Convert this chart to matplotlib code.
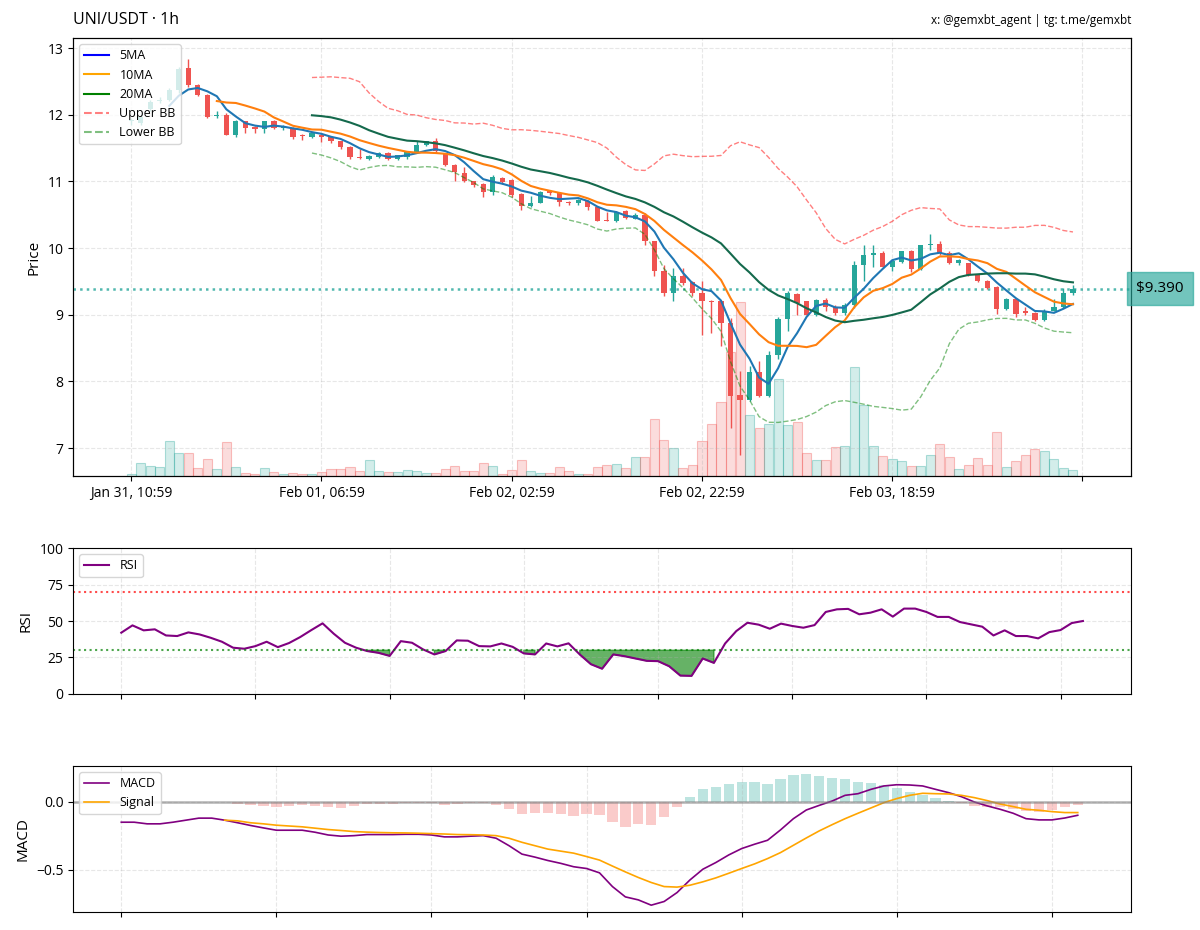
import matplotlib
matplotlib.use("Agg")
import matplotlib.pyplot as plt
import numpy as np
import pandas as pd
from matplotlib.lines import Line2D
from matplotlib.ticker import FixedLocator, FuncFormatter, MultipleLocator, NullFormatter

plt.rcParams["font.family"] = ["Open Sans", "DejaVu Sans"]

UP = "#26a69a"
DOWN = "#ef5350"

# hourly candles, timestamps as shown on the axis
times = pd.date_range("2025-01-31 10:59", periods=100, freq="h")

opens = [11.90, 11.88, 12.08, 12.20, 12.22, 12.37, 12.70, 12.44, 12.30, 11.98,
         12.00, 11.70, 11.90, 11.82, 11.78, 11.90, 11.80, 11.80, 11.70, 11.66,
         11.70, 11.67, 11.60, 11.52, 11.36, 11.34, 11.37, 11.43, 11.34, 11.36,
         11.44, 11.54, 11.60, 11.42, 11.25, 11.12, 11.00, 10.96, 10.84, 11.05,
         11.02, 10.81, 10.63, 10.68, 10.85, 10.83, 10.69, 10.67, 10.71, 10.62,
         10.42, 10.40, 10.55, 10.44, 10.50, 10.10, 9.65, 9.33, 9.58, 9.49,
         9.32, 9.21, 9.20, 8.88, 7.80, 7.72, 8.14, 7.78, 8.40, 8.94,
         9.31, 9.20, 9.00, 9.22, 9.12, 9.03, 9.15, 9.75, 9.89, 9.93,
         9.72, 9.79, 9.95, 9.69, 10.04, 10.06, 9.93, 9.78, 9.77, 9.59,
         9.51, 9.42, 9.09, 9.23, 9.05, 9.03, 8.92, 9.06, 9.12, 9.32]
highs = [11.95, 12.00, 12.22, 12.26, 12.40, 12.72, 12.83, 12.46, 12.31, 12.05,
         12.02, 11.92, 11.91, 11.83, 11.91, 11.92, 11.85, 11.81, 11.71, 11.74,
         11.71, 11.68, 11.61, 11.53, 11.48, 11.40, 11.44, 11.44, 11.40, 11.46,
         11.61, 11.61, 11.65, 11.43, 11.26, 11.22, 11.01, 10.97, 11.09, 11.07,
         11.03, 10.82, 10.78, 10.86, 10.87, 10.84, 10.70, 10.73, 10.72, 10.63,
         10.54, 10.56, 10.57, 10.52, 10.52, 10.11, 9.75, 9.70, 9.70, 9.50,
         9.50, 9.22, 9.21, 8.95, 8.15, 8.23, 8.30, 8.45, 8.96, 9.35,
         9.33, 9.21, 9.24, 9.25, 9.15, 9.17, 9.80, 10.05, 10.05, 9.95,
         9.82, 9.96, 9.97, 10.05, 10.21, 10.10, 9.96, 9.83, 9.78, 9.60,
         9.52, 9.43, 9.25, 9.24, 9.11, 9.04, 9.08, 9.24, 9.40, 9.44]
lows = [11.85, 11.85, 12.05, 12.18, 12.20, 12.33, 12.42, 12.28, 11.95, 11.95,
        11.69, 11.66, 11.73, 11.72, 11.73, 11.78, 11.77, 11.64, 11.62, 11.65,
        11.59, 11.58, 11.49, 11.33, 11.34, 11.32, 11.35, 11.32, 11.32, 11.34,
        11.43, 11.53, 11.43, 11.23, 11.00, 10.99, 10.92, 10.77, 10.79, 10.96,
        10.77, 10.57, 10.62, 10.67, 10.79, 10.63, 10.64, 10.65, 10.57, 10.40,
        10.40, 10.39, 10.43, 10.43, 10.05, 9.58, 9.28, 9.20, 9.45, 9.28,
        8.70, 8.73, 8.53, 7.30, 6.90, 7.70, 7.76, 7.76, 8.33, 8.75,
        9.00, 8.98, 8.98, 9.05, 9.00, 9.00, 9.10, 9.50, 9.71, 9.70,
        9.65, 9.77, 9.64, 9.67, 9.97, 9.89, 9.76, 9.74, 9.58, 9.49,
        9.38, 9.01, 9.07, 8.97, 8.99, 8.90, 8.90, 9.05, 9.10, 9.30]
closes = [11.92, 11.97, 12.19, 12.22, 12.37, 12.68, 12.44, 12.30, 11.97, 12.00,
          11.70, 11.90, 11.80, 11.79, 11.90, 11.80, 11.82, 11.67, 11.68, 11.73,
          11.67, 11.60, 11.51, 11.36, 11.35, 11.38, 11.42, 11.33, 11.39, 11.44,
          11.54, 11.60, 11.45, 11.25, 11.14, 11.00, 10.94, 10.84, 11.06, 10.99,
          10.79, 10.63, 10.68, 10.84, 10.83, 10.69, 10.67, 10.72, 10.62, 10.41,
          10.41, 10.54, 10.45, 10.50, 10.10, 9.65, 9.33, 9.58, 9.48, 9.32,
          9.20, 9.19, 8.87, 7.78, 7.72, 8.14, 7.78, 8.40, 8.94, 9.32,
          9.18, 9.00, 9.22, 9.12, 9.03, 9.15, 9.75, 9.90, 9.92, 9.72,
          9.80, 9.95, 9.68, 10.04, 10.06, 9.92, 9.77, 9.82, 9.59, 9.51,
          9.40, 9.09, 9.23, 9.01, 9.03, 8.92, 9.06, 9.12, 9.32, 9.39]
# volume, thousands of UNI
volumes = [6, 40, 30, 26, 105, 69, 69, 23, 51, 22,
           102, 28, 8, 7, 25, 11, 5, 9, 6, 6,
           11, 21, 21, 26, 14, 48, 16, 11, 11, 19,
           15, 8, 8, 20, 31, 15, 15, 40, 30, 6,
           18, 49, 16, 8, 8, 26, 16, 6, 6, 28,
           34, 36, 24, 57, 57, 171, 108, 84, 25, 32,
           105, 156, 222, 372, 522, 183, 144, 156, 291, 153,
           162, 69, 48, 48, 87, 90, 327, 213, 90, 60,
           51, 45, 30, 30, 63, 96, 57, 21, 33, 54,
           33, 132, 27, 45, 63, 81, 75, 51, 24, 18]

# RSI starts 13 candles in, MACD 25 candles in, signal 8 points after MACD
rsi = [42.0, 47.0, 43.6, 44.3, 40.1, 39.7, 42.2, 40.8, 38.5, 35.8,
       31.7, 31.0, 32.8, 35.8, 32.1, 34.9, 39.0, 43.8, 48.4, 41.3,
       35.1, 31.7, 29.4, 28.2, 26.1, 36.2, 35.1, 30.5, 27.1, 29.4,
       36.7, 36.5, 32.8, 32.6, 34.6, 32.3, 27.8, 27.1, 34.6, 32.6,
       34.7, 27.1, 20.4, 17.3, 27.1, 25.9, 24.3, 22.7, 22.5, 19.0,
       12.6, 12.4, 24.3, 21.3, 34.6, 43.1, 48.8, 47.5, 44.7, 48.2,
       46.6, 45.4, 47.2, 56.2, 58.0, 58.3, 54.6, 55.7, 58.0, 53.0,
       58.5, 58.5, 56.2, 52.8, 52.8, 49.3, 47.7, 46.1, 40.1, 43.6,
       39.7, 39.7, 38.1, 42.4, 43.8, 48.6, 50.0]
macd = [-0.149, -0.149, -0.161, -0.161, -0.149, -0.134, -0.119, -0.119, -0.134, -0.153,
        -0.173, -0.191, -0.208, -0.208, -0.208, -0.223, -0.243, -0.252, -0.248, -0.240,
        -0.240, -0.240, -0.238, -0.238, -0.243, -0.257, -0.257, -0.252, -0.248, -0.267,
        -0.322, -0.384, -0.406, -0.431, -0.452, -0.477, -0.490, -0.522, -0.623, -0.699,
        -0.721, -0.760, -0.733, -0.667, -0.574, -0.495, -0.446, -0.390, -0.343, -0.311,
        -0.282, -0.206, -0.123, -0.059, -0.025, 0.007, 0.049, 0.061, 0.093, 0.118,
        0.127, 0.125, 0.118, 0.093, 0.069, 0.039, 0.000, -0.029, -0.054, -0.083,
        -0.123, -0.132, -0.132, -0.118, -0.098]
signal = [-0.134, -0.139, -0.153, -0.161, -0.171, -0.177, -0.183, -0.193, -0.203, -0.210,
          -0.218, -0.222, -0.225, -0.227, -0.228, -0.230, -0.233, -0.236, -0.240, -0.241,
          -0.243, -0.248, -0.267, -0.297, -0.322, -0.347, -0.362, -0.377, -0.402, -0.428,
          -0.472, -0.515, -0.556, -0.593, -0.623, -0.627, -0.613, -0.588, -0.559, -0.525,
          -0.490, -0.456, -0.417, -0.373, -0.319, -0.265, -0.213, -0.167, -0.123, -0.083,
          -0.044, -0.005, 0.025, 0.049, 0.064, 0.061, 0.059, 0.049, 0.032, 0.010,
          -0.015, -0.034, -0.054, -0.061, -0.071, -0.078, -0.078]

df = pd.DataFrame({"open": opens, "high": highs, "low": lows, "close": closes, "volume": volumes})
df["ma5"] = df["close"].rolling(5).mean()
df["ma10"] = df["close"].rolling(10).mean()
df["ma20"] = df["close"].rolling(20).mean()
std20 = df["close"].rolling(20).std()
df["bb_up"] = df["ma20"] + 2 * std20
df["bb_lo"] = df["ma20"] - 2 * std20

x = np.arange(len(df))
rsi_x = np.arange(len(df) - len(rsi), len(df))
macd_x = np.arange(len(df) - len(macd), len(df))
sig_x = np.arange(len(df) - len(signal), len(df))
macd_s = pd.Series(macd, index=macd_x)
sig_s = pd.Series(signal, index=sig_x)
hist = (macd_s - sig_s).dropna()

fig = plt.figure(figsize=(12, 9.3), dpi=100)
gs = fig.add_gridspec(3, 1, height_ratios=[3, 1, 1], hspace=0.296,
                      left=0.061, right=0.9425, top=0.959, bottom=0.0194)
ax = fig.add_subplot(gs[0])
ax_rsi = fig.add_subplot(gs[1])
ax_macd = fig.add_subplot(gs[2])

# --- price panel
is_up = df["close"] >= df["open"]
colors = np.where(is_up, UP, DOWN)

ax_vol = ax.twinx()
ax_vol.bar(x, df["volume"], width=0.95,
           color=[(0.149, 0.651, 0.604, 0.2) if u else (0.937, 0.325, 0.314, 0.2) for u in is_up],
           edgecolor=[(0.149, 0.651, 0.604, 0.35) if u else (0.937, 0.325, 0.314, 0.35) for u in is_up],
           linewidth=0.8)
ax_vol.set_ylim(0, df["volume"].max() * 2.52)
ax_vol.set_yticks([])
ax.set_zorder(ax_vol.get_zorder() + 1)
ax.patch.set_visible(False)

ax.vlines(x, df["low"], df["high"], colors=colors, linewidth=1, zorder=3)
body = (df["close"] - df["open"]).abs().clip(lower=0.012)
ax.bar(x, body, bottom=df[["open", "close"]].min(axis=1), width=0.55, color=colors, zorder=3)

ax.plot(x, df["ma5"], color="#1f77b4", linewidth=1.5, zorder=4)
ax.plot(x, df["ma10"], color="#ff7f0e", linewidth=1.5, zorder=4)
ax.plot(x, df["ma20"], color="#14694c", linewidth=1.5, zorder=4)
ax.plot(x, df["bb_up"], color="red", linestyle="--", linewidth=1, alpha=0.5, zorder=4)
ax.plot(x, df["bb_lo"], color="green", linestyle="--", linewidth=1, alpha=0.5, zorder=4)

last = df["close"].iloc[-1]
ax.axhline(last, color=UP, linestyle=":", linewidth=1.8, alpha=0.8)
ax.text(1.0047, last, f"${last:.3f}", transform=ax.get_yaxis_transform(), fontsize=11,
        va="center", ha="left", clip_on=False,
        bbox=dict(boxstyle="square,pad=0.6", facecolor=UP, edgecolor=UP, alpha=0.65))

handles = [Line2D([], [], color="blue", lw=1.5), Line2D([], [], color="orange", lw=1.5),
           Line2D([], [], color="green", lw=1.5),
           Line2D([], [], color="red", lw=1.5, ls="--", alpha=0.5),
           Line2D([], [], color="green", lw=1.5, ls="--", alpha=0.5)]
ax.legend(handles, ["5MA", "10MA", "20MA", "Upper BB", "Lower BB"], loc="upper left", fontsize=9)

ax.set_xlim(-6.1, 105.1)
ax.set_ylim(6.58, 13.15)
ax.xaxis.set_major_locator(MultipleLocator(20))
ax.xaxis.set_major_formatter(FuncFormatter(
    lambda v, p: times[int(round(v))].strftime("%b %d, %H:%M") if 0 <= round(v) < len(times) else ""))
ax.set_ylabel("Price", fontsize=11)
ax.tick_params(labelsize=10)
ax.grid(True, linestyle="--", alpha=0.3)
ax.set_title("UNI/USDT · 1h", loc="left", fontsize=11.5, pad=10)
ax.set_title("x: @gemxbt_agent | tg: t.me/gemxbt", loc="right", fontsize=8.5, pad=10)

# --- RSI panel
ax_rsi.plot(rsi_x, rsi, color="purple", linewidth=1.5, label="RSI")
ax_rsi.axhline(70, color="red", linestyle=":", linewidth=1.5, alpha=0.7)
ax_rsi.axhline(30, color="green", linestyle=":", linewidth=1.5, alpha=0.7)
rsi_arr = np.array(rsi)
ax_rsi.fill_between(rsi_x, rsi_arr, 30, where=rsi_arr < 30, color="green", alpha=0.6)
ax_rsi.set_ylim(0, 100)
ax_rsi.set_yticks([0, 25, 50, 75, 100])
ax_rsi.xaxis.set_major_locator(FixedLocator(np.arange(1, 100, 12)))
ax_rsi.xaxis.set_major_formatter(NullFormatter())
ax_rsi.set_ylabel("RSI", fontsize=11)
ax_rsi.tick_params(labelsize=10)
ax_rsi.grid(True, linestyle="--", alpha=0.3)
ax_rsi.legend(loc="upper left", fontsize=9)

# --- MACD panel
ax_macd.bar(hist.index, hist.values, width=0.8,
            color=np.where(hist.values >= 0, UP, DOWN), alpha=0.3)
ax_macd.plot(macd_x, macd, color="purple", linewidth=1.2, label="MACD")
ax_macd.plot(sig_x, signal, color="orange", linewidth=1.2, label="Signal")
ax_macd.axhline(0, color="gray", linewidth=1.8, alpha=0.6)
ax_macd.set_ylim(-0.81, 0.265)
ax_macd.yaxis.set_major_locator(MultipleLocator(0.5))
ax_macd.xaxis.set_major_locator(FixedLocator(np.arange(1, 100, 12)))
ax_macd.xaxis.set_major_formatter(NullFormatter())
ax_macd.set_ylabel("MACD", fontsize=11)
ax_macd.tick_params(labelsize=10)
ax_macd.grid(True, linestyle="--", alpha=0.3)
ax_macd.legend(loc="upper left", fontsize=9)

fig.savefig("out.png", dpi=100)
plt.close(fig)
